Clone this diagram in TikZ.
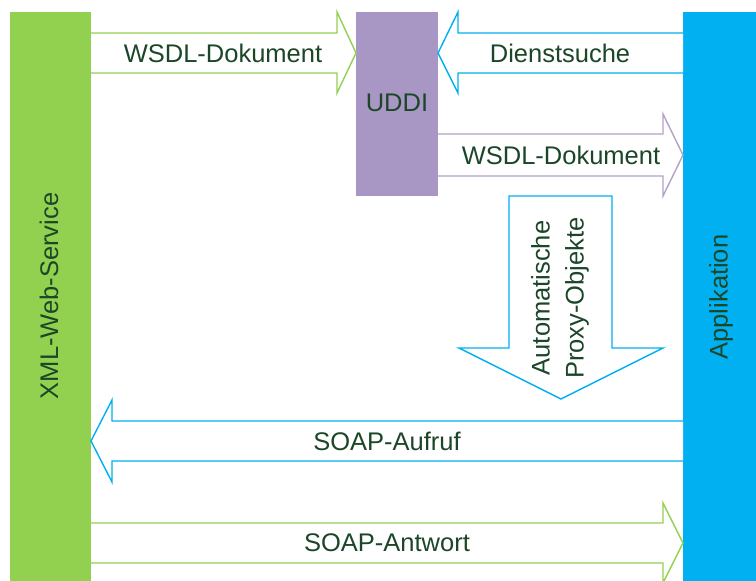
\documentclass[tikz,border=0pt]{standalone}
\usepackage{fontspec}
\setmainfont{Liberation Sans}
\definecolor{ggreen}{RGB}{146,208,80}
\definecolor{gblue}{RGB}{0,176,240}
\definecolor{gpurple}{RGB}{168,151,196}
\definecolor{lpurple}{RGB}{179,162,199}
\definecolor{txt}{RGB}{28,70,40}
\begin{document}
\begin{tikzpicture}[x=1pt,y=-1pt,
  bar/.style={inner sep=0pt, anchor=north west},
  lbl/.style={text=txt, font=\fontsize{25.5}{28}\selectfont, inner sep=0pt},
  blockarrow/.style={line width=1.4pt, fill=white, line join=miter}]
\useasboundingbox (0,0) rectangle (756,581);
% boxes
\node[bar, fill=ggreen, minimum width=81pt, minimum height=569pt] (ws) at (10,12) {};
\node[bar, fill=gpurple, minimum width=82pt, minimum height=184pt] (uddi) at (356,12) {};
\node[bar, fill=gblue, minimum width=73pt, minimum height=569pt] (app) at (683,12) {};
\node[lbl, rotate=90] (wsl) at (49,296) {XML-Web-Service};
\node[lbl] (uddil) at (397,103) {UDDI};
\node[lbl, rotate=90] (appl) at (721,297) {Applikation};
% WSDL-Dokument (service -> UDDI)
\draw[blockarrow, draw=ggreen] (91,33) -- (337,33) -- (337,12) -- (356,53) -- (337,93) -- (337,73) -- (91,73);
\node[lbl] (a1) at (223,53) {WSDL-Dokument};
% Dienstsuche (app -> UDDI)
\draw[blockarrow, draw=gblue] (683,33) -- (458,33) -- (458,12) -- (438,53) -- (458,93) -- (458,73) -- (683,73);
\node[lbl] (a2) at (560,53) {Dienstsuche};
% WSDL-Dokument (UDDI -> app)
\draw[blockarrow, draw=lpurple] (438,134) -- (663,134) -- (663,114) -- (683,155) -- (663,196) -- (663,176) -- (438,176);
\node[lbl] (a3) at (561,155) {WSDL-Dokument};
% Proxy objects (down)
\draw[blockarrow, draw=gblue] (509,196) -- (612,196) -- (612,348) -- (663,348) -- (561,399) -- (459,348) -- (509,348) -- cycle;
\node[lbl, rotate=90, align=center, font=\fontsize{25.5}{34}\selectfont] (a4) at (560,298) {Automatische\\Proxy-Objekte};
% SOAP-Aufruf (app -> service)
\draw[blockarrow, draw=gblue] (683,421) -- (112,421) -- (112,400) -- (91,441) -- (112,482) -- (112,461) -- (683,461);
\node[lbl] (a5) at (387,441) {SOAP-Aufruf};
% SOAP-Antwort (service -> app)
\draw[blockarrow, draw=ggreen] (91,523) -- (663,523) -- (663,503) -- (683,543) -- (663,583) -- (663,563) -- (91,563);
\node[lbl] (a6) at (387,543) {SOAP-Antwort};
\end{tikzpicture}
\end{document}
